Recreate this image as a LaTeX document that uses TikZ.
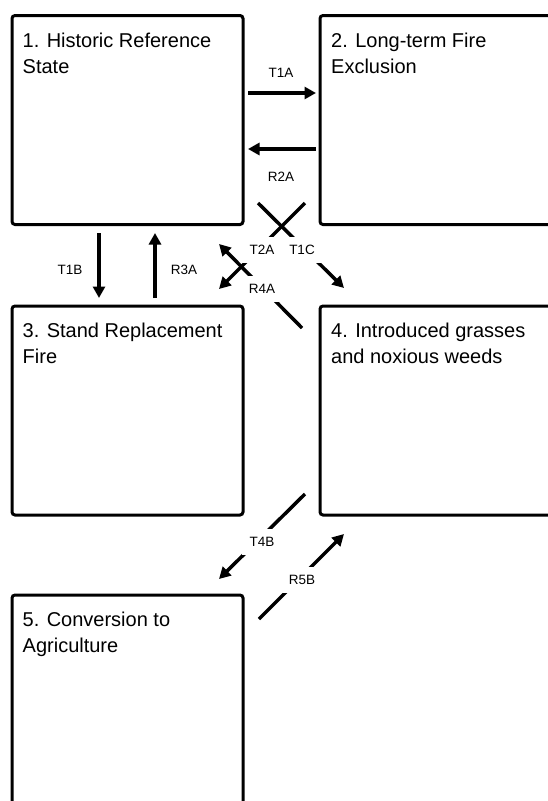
\documentclass[tikz,border=0pt]{standalone}
\usepackage{fontspec}
\setmainfont{Liberation Sans}
\usetikzlibrary{arrows.meta}

\begin{document}
\begin{tikzpicture}[
  x=1pt,y=-1pt,
  statebox/.style={draw,line width=3pt,rounded corners=3pt,anchor=north west,
    inner sep=0,outer sep=0,minimum width=231,minimum height=209},
  widebox/.style={statebox,minimum width=260},
  statetext/.style={anchor=north west,inner sep=0,align=left,
    font=\fontsize{20}{26}\selectfont},
  trans/.style={line width=3.5pt,-{Triangle[length=11.5pt,width=12pt]}},
  translabel/.style={fill=white,inner sep=8pt,font=\fontsize{13.5}{16}\selectfont}
]
\useasboundingbox (0,0) rectangle (548,801);

% states
\node[statebox] (S1) at (12,15.5) {};
\node[widebox] (S2) at (320,15.5) {};
\node[statebox] (S3) at (12,306) {};
\node[widebox] (S4) at (320,306) {};
\node[statebox,minimum height=240] (S5) at (12,595) {};

\node[statetext] (S1text) at ([shift={(10.5,17)}]S1.north west) {1. Historic Reference\\State};
\node[statetext] (S2text) at ([shift={(11,17)}]S2.north west) {2. Long-term Fire\\Exclusion};
\node[statetext] (S3text) at ([shift={(10.5,17)}]S3.north west) {3. Stand Replacement\\Fire};
\node[statetext] (S4text) at ([shift={(11,17)}]S4.north west) {4. Introduced grasses\\and noxious weeds};
\node[statetext] (S5text) at ([shift={(10.5,17)}]S5.north west) {5. Conversion to\\Agriculture};

% arrow ends
\coordinate (T1Aa) at (248,93);   \coordinate (T1Ab) at (316,93);
\coordinate (R2Aa) at (316,149);  \coordinate (R2Ab) at (248,149);
\coordinate (T1Ba) at (99,233);   \coordinate (T1Bb) at (99,298);
\coordinate (R3Aa) at (155,298);  \coordinate (R3Ab) at (155,233);
\coordinate (T1Ca) at (258,203);  \coordinate (T1Cb) at (344,288);
\coordinate (T2Aa) at (305,203);  \coordinate (T2Ab) at (219,289);
\coordinate (R4Aa) at (302,328);  \coordinate (R4Ab) at (219,244);
\coordinate (T4Ba) at (305,494);  \coordinate (T4Bb) at (219,579);
\coordinate (R5Ba) at (259,619);  \coordinate (R5Bb) at (344,534);

% transitions
\draw[trans] (T1Aa) -- (T1Ab);
\draw[trans] (R2Aa) -- (R2Ab);
\draw[trans] (T1Ba) -- (T1Bb);
\draw[trans] (R3Aa) -- (R3Ab);
\draw[trans] (T1Ca) -- (T1Cb);
\draw[trans] (T2Aa) -- (T2Ab);
\draw[trans] (R4Aa) -- (R4Ab);
\draw[trans] (T4Ba) -- (T4Bb);
\draw[trans] (R5Ba) -- (R5Bb);

% labels
\node[translabel] (T1A) at (281,73) {T1A};
\node[translabel] (R2A) at (281,177) {R2A};
\node[translabel] (T1B) at (70,270) {T1B};
\node[translabel] (R3A) at (184,270) {R3A};
\node[translabel] (T2A) at (262,250) {T2A};
\node[translabel] (T1C) at (302,250) {T1C};
\node[translabel] (R4A) at (262,289) {R4A};
\node[translabel] (T4B) at (262,542) {T4B};
\node[translabel] (R5B) at (302,580) {R5B};

\end{tikzpicture}
\end{document}
